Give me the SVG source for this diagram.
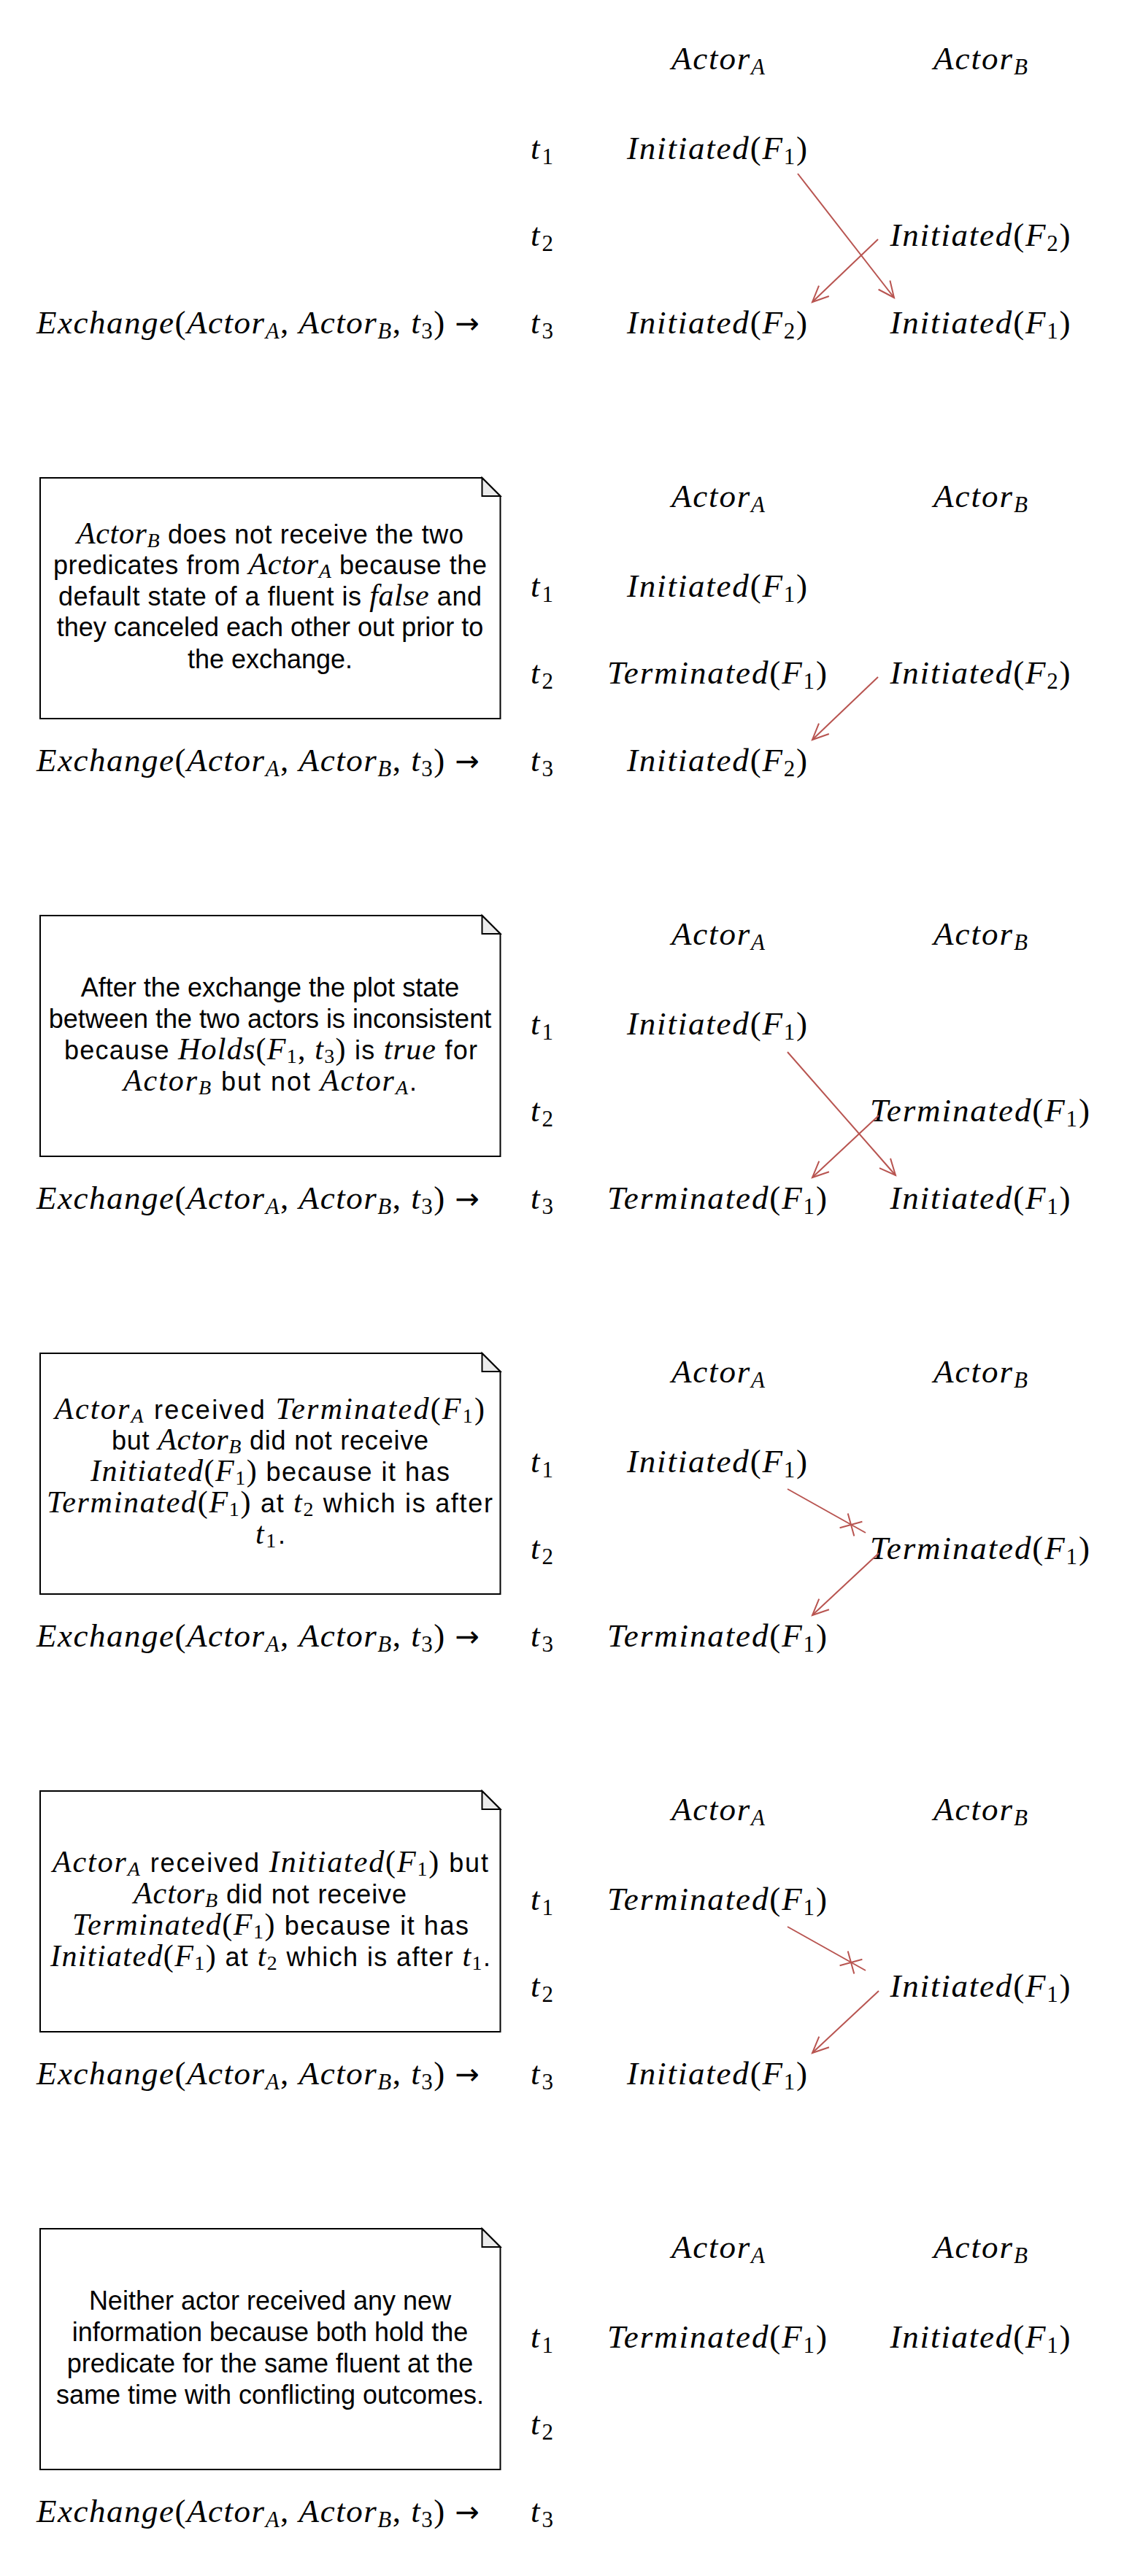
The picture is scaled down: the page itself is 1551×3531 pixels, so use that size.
<svg xmlns="http://www.w3.org/2000/svg" width="1551" height="3531" viewBox="0 0 1551 3531">
<style>
.m{font-family:"Liberation Serif","Times New Roman",serif;font-style:italic;font-size:45px;fill:#000}
.u{font-style:normal}
.ar2{font-style:normal;font-family:"DejaVu Sans",sans-serif;font-size:40px}
.s{font-size:31px;font-style:normal}
.sb{font-size:31px}
.n{font-family:"Liberation Sans",Arial,sans-serif;font-size:36px;fill:#000}
.n .m{font-size:42px}
.n .s,.n .sb{font-size:28px}
.c{text-anchor:middle}
.note{fill:#fff;stroke:#000;stroke-width:2}
.fold{fill:#ebebeb;stroke:#000;stroke-width:2}
.ln{fill:none;stroke:#b85450;stroke-width:2}
.ar{fill:none;stroke:#b85450;stroke-width:2;marker-end:url(#arr)}
</style>
<defs>
<marker id="arr" markerUnits="userSpaceOnUse" markerWidth="30" markerHeight="24" viewBox="0 0 30 24" refX="25" refY="12" orient="auto"><path d="M3,2 L25,12 L3,22" fill="none" stroke="#b85450" stroke-width="2"/></marker>
</defs>
<rect width="1551" height="3531" fill="#fff"/>

<!-- Panel 1 -->
<g id="panel1">
<g id="p1-actorA"><text class="m" x="920" y="95" textLength="128">Actor<tspan class="sb" dy="7">A</tspan></text></g>
<g id="p1-actorB"><text class="m" x="1279" y="95" textLength="129">Actor<tspan class="sb" dy="7">B</tspan></text></g>
<g id="p1-t1"><text class="m" x="727" y="218" textLength="31">t<tspan class="s" dy="7">1</tspan></text></g>
<g id="p1-t2"><text class="m" x="727" y="337" textLength="31">t<tspan class="s" dy="7">2</tspan></text></g>
<g id="p1-t3"><text class="m" x="727" y="457" textLength="31">t<tspan class="s" dy="7">3</tspan></text></g>
<g id="p1-exchange"><text class="m" x="50" y="457" textLength="607">Exchange<tspan class="u">(</tspan>Actor<tspan class="sb" dy="7">A</tspan><tspan class="u" dy="-7">, </tspan>Actor<tspan class="sb" dy="7">B</tspan><tspan class="u" dy="-7">, </tspan>t<tspan class="s" dy="7">3</tspan><tspan class="u" dy="-7">) </tspan><tspan class="ar2">→</tspan></text></g>
<g id="p1-A-t1"><text class="m" x="859" y="218" textLength="247">Initiated<tspan class="u">(</tspan>F<tspan class="s" dy="7">1</tspan><tspan class="u" dy="-7">)</tspan></text></g>
<g id="p1-B-t2"><text class="m" x="1219.5" y="337" textLength="247">Initiated<tspan class="u">(</tspan>F<tspan class="s" dy="7">2</tspan><tspan class="u" dy="-7">)</tspan></text></g>
<g id="p1-A-t3"><text class="m" x="859" y="457" textLength="247">Initiated<tspan class="u">(</tspan>F<tspan class="s" dy="7">2</tspan><tspan class="u" dy="-7">)</tspan></text></g>
<g id="p1-B-t3"><text class="m" x="1219.5" y="457" textLength="247">Initiated<tspan class="u">(</tspan>F<tspan class="s" dy="7">1</tspan><tspan class="u" dy="-7">)</tspan></text></g>
</g>

<!-- Panel 2 -->
<g id="panel2" transform="translate(0,600)">
<g id="p2-note">
<path class="note" d="M55,55 H660.5 L685.5,80 V385 H55 Z"/>
<path class="fold" d="M660.5,55 V80 H685.5 Z"/>
<text class="n" x="105" y="145" textLength="530"><tspan class="m">Actor<tspan class="sb" dy="5">B</tspan></tspan><tspan dy="-5"> does not receive the two</tspan></text>
<text class="n" x="73" y="187" textLength="594">predicates from <tspan class="m">Actor<tspan class="sb" dy="5">A</tspan></tspan><tspan dy="-5"> because the</tspan></text>
<text class="n" x="80" y="230" textLength="580">default state of a fluent is <tspan class="m">false</tspan> and</text>
<text class="n c" x="370" y="272">they canceled each other out prior to</text>
<text class="n c" x="370" y="316">the exchange.</text>
</g>
<g id="p2-actorA"><text class="m" x="920" y="95" textLength="128">Actor<tspan class="sb" dy="7">A</tspan></text></g>
<g id="p2-actorB"><text class="m" x="1279" y="95" textLength="129">Actor<tspan class="sb" dy="7">B</tspan></text></g>
<g id="p2-t1"><text class="m" x="727" y="218" textLength="31">t<tspan class="s" dy="7">1</tspan></text></g>
<g id="p2-t2"><text class="m" x="727" y="337" textLength="31">t<tspan class="s" dy="7">2</tspan></text></g>
<g id="p2-t3"><text class="m" x="727" y="457" textLength="31">t<tspan class="s" dy="7">3</tspan></text></g>
<g id="p2-exchange"><text class="m" x="50" y="457" textLength="607">Exchange<tspan class="u">(</tspan>Actor<tspan class="sb" dy="7">A</tspan><tspan class="u" dy="-7">, </tspan>Actor<tspan class="sb" dy="7">B</tspan><tspan class="u" dy="-7">, </tspan>t<tspan class="s" dy="7">3</tspan><tspan class="u" dy="-7">) </tspan><tspan class="ar2">→</tspan></text></g>
<g id="p2-A-t1"><text class="m" x="859" y="218" textLength="247">Initiated<tspan class="u">(</tspan>F<tspan class="s" dy="7">1</tspan><tspan class="u" dy="-7">)</tspan></text></g>
<g id="p2-A-t2"><text class="m" x="832" y="337" textLength="301">Terminated<tspan class="u">(</tspan>F<tspan class="s" dy="7">1</tspan><tspan class="u" dy="-7">)</tspan></text></g>
<g id="p2-B-t2"><text class="m" x="1219.5" y="337" textLength="247">Initiated<tspan class="u">(</tspan>F<tspan class="s" dy="7">2</tspan><tspan class="u" dy="-7">)</tspan></text></g>
<g id="p2-A-t3"><text class="m" x="859" y="457" textLength="247">Initiated<tspan class="u">(</tspan>F<tspan class="s" dy="7">2</tspan><tspan class="u" dy="-7">)</tspan></text></g>
</g>

<!-- Panel 3 -->
<g id="panel3" transform="translate(0,1200)">
<g id="p3-note">
<path class="note" d="M55,55 H660.5 L685.5,80 V385 H55 Z"/>
<path class="fold" d="M660.5,55 V80 H685.5 Z"/>
<text class="n c" x="370" y="166">After the exchange the plot state</text>
<text class="n c" x="370" y="209">between the two actors is inconsistent</text>
<text class="n" x="88" y="252" textLength="566">because <tspan class="m">Holds<tspan class="u">(</tspan>F<tspan class="s" dy="5">1</tspan><tspan class="u" dy="-5">, </tspan>t<tspan class="s" dy="5">3</tspan><tspan class="u" dy="-5">)</tspan></tspan> is <tspan class="m">true</tspan> for</text>
<text class="n" x="169" y="295" textLength="402"><tspan class="m">Actor<tspan class="sb" dy="5">B</tspan></tspan><tspan dy="-5"> but not </tspan><tspan class="m">Actor<tspan class="sb" dy="5">A</tspan></tspan><tspan dy="-5">.</tspan></text>
</g>
<g id="p3-actorA"><text class="m" x="920" y="95" textLength="128">Actor<tspan class="sb" dy="7">A</tspan></text></g>
<g id="p3-actorB"><text class="m" x="1279" y="95" textLength="129">Actor<tspan class="sb" dy="7">B</tspan></text></g>
<g id="p3-t1"><text class="m" x="727" y="218" textLength="31">t<tspan class="s" dy="7">1</tspan></text></g>
<g id="p3-t2"><text class="m" x="727" y="337" textLength="31">t<tspan class="s" dy="7">2</tspan></text></g>
<g id="p3-t3"><text class="m" x="727" y="457" textLength="31">t<tspan class="s" dy="7">3</tspan></text></g>
<g id="p3-exchange"><text class="m" x="50" y="457" textLength="607">Exchange<tspan class="u">(</tspan>Actor<tspan class="sb" dy="7">A</tspan><tspan class="u" dy="-7">, </tspan>Actor<tspan class="sb" dy="7">B</tspan><tspan class="u" dy="-7">, </tspan>t<tspan class="s" dy="7">3</tspan><tspan class="u" dy="-7">) </tspan><tspan class="ar2">→</tspan></text></g>
<g id="p3-A-t1"><text class="m" x="859" y="218" textLength="247">Initiated<tspan class="u">(</tspan>F<tspan class="s" dy="7">1</tspan><tspan class="u" dy="-7">)</tspan></text></g>
<g id="p3-B-t2"><text class="m" x="1192" y="337" textLength="301">Terminated<tspan class="u">(</tspan>F<tspan class="s" dy="7">1</tspan><tspan class="u" dy="-7">)</tspan></text></g>
<g id="p3-A-t3"><text class="m" x="832" y="457" textLength="301">Terminated<tspan class="u">(</tspan>F<tspan class="s" dy="7">1</tspan><tspan class="u" dy="-7">)</tspan></text></g>
<g id="p3-B-t3"><text class="m" x="1219.5" y="457" textLength="247">Initiated<tspan class="u">(</tspan>F<tspan class="s" dy="7">1</tspan><tspan class="u" dy="-7">)</tspan></text></g>
</g>

<!-- Panel 4 -->
<g id="panel4" transform="translate(0,1800)">
<g id="p4-note">
<path class="note" d="M55,55 H660.5 L685.5,80 V385 H55 Z"/>
<path class="fold" d="M660.5,55 V80 H685.5 Z"/>
<text class="n" x="75" y="145" textLength="589"><tspan class="m">Actor<tspan class="sb" dy="5">A</tspan></tspan><tspan dy="-5"> received </tspan><tspan class="m">Terminated<tspan class="u">(</tspan>F<tspan class="s" dy="5">1</tspan><tspan class="u" dy="-5">)</tspan></tspan></text>
<text class="n" x="153" y="187" textLength="434">but <tspan class="m">Actor<tspan class="sb" dy="5">B</tspan></tspan><tspan dy="-5"> did not receive</tspan></text>
<text class="n" x="124" y="230" textLength="492"><tspan class="m">Initiated<tspan class="u">(</tspan>F<tspan class="s" dy="5">1</tspan><tspan class="u" dy="-5">)</tspan></tspan> because it has</text>
<text class="n" x="64" y="273" textLength="611"><tspan class="m">Terminated<tspan class="u">(</tspan>F<tspan class="s" dy="5">1</tspan><tspan class="u" dy="-5">)</tspan></tspan> at <tspan class="m">t<tspan class="s" dy="5">2</tspan></tspan><tspan dy="-5"> which is after</tspan></text>
<text class="n" x="350" y="316" textLength="41"><tspan class="m">t<tspan class="s" dy="5">1</tspan></tspan><tspan dy="-5">.</tspan></text>
</g>
<g id="p4-actorA"><text class="m" x="920" y="95" textLength="128">Actor<tspan class="sb" dy="7">A</tspan></text></g>
<g id="p4-actorB"><text class="m" x="1279" y="95" textLength="129">Actor<tspan class="sb" dy="7">B</tspan></text></g>
<g id="p4-t1"><text class="m" x="727" y="218" textLength="31">t<tspan class="s" dy="7">1</tspan></text></g>
<g id="p4-t2"><text class="m" x="727" y="337" textLength="31">t<tspan class="s" dy="7">2</tspan></text></g>
<g id="p4-t3"><text class="m" x="727" y="457" textLength="31">t<tspan class="s" dy="7">3</tspan></text></g>
<g id="p4-exchange"><text class="m" x="50" y="457" textLength="607">Exchange<tspan class="u">(</tspan>Actor<tspan class="sb" dy="7">A</tspan><tspan class="u" dy="-7">, </tspan>Actor<tspan class="sb" dy="7">B</tspan><tspan class="u" dy="-7">, </tspan>t<tspan class="s" dy="7">3</tspan><tspan class="u" dy="-7">) </tspan><tspan class="ar2">→</tspan></text></g>
<g id="p4-A-t1"><text class="m" x="859" y="218" textLength="247">Initiated<tspan class="u">(</tspan>F<tspan class="s" dy="7">1</tspan><tspan class="u" dy="-7">)</tspan></text></g>
<g id="p4-B-t2"><text class="m" x="1192" y="337" textLength="301">Terminated<tspan class="u">(</tspan>F<tspan class="s" dy="7">1</tspan><tspan class="u" dy="-7">)</tspan></text></g>
<g id="p4-A-t3"><text class="m" x="832" y="457" textLength="301">Terminated<tspan class="u">(</tspan>F<tspan class="s" dy="7">1</tspan><tspan class="u" dy="-7">)</tspan></text></g>
</g>

<!-- Panel 5 -->
<g id="panel5" transform="translate(0,2400)">
<g id="p5-note">
<path class="note" d="M55,55 H660.5 L685.5,80 V385 H55 Z"/>
<path class="fold" d="M660.5,55 V80 H685.5 Z"/>
<text class="n" x="72" y="166" textLength="597"><tspan class="m">Actor<tspan class="sb" dy="5">A</tspan></tspan><tspan dy="-5"> received </tspan><tspan class="m">Initiated<tspan class="u">(</tspan>F<tspan class="s" dy="5">1</tspan><tspan class="u" dy="-5">)</tspan></tspan> but</text>
<text class="n" x="183" y="209" textLength="374"><tspan class="m">Actor<tspan class="sb" dy="5">B</tspan></tspan><tspan dy="-5"> did not receive</tspan></text>
<text class="n" x="99" y="252" textLength="543"><tspan class="m">Terminated<tspan class="u">(</tspan>F<tspan class="s" dy="5">1</tspan><tspan class="u" dy="-5">)</tspan></tspan> because it has</text>
<text class="n" x="69" y="295" textLength="603"><tspan class="m">Initiated<tspan class="u">(</tspan>F<tspan class="s" dy="5">1</tspan><tspan class="u" dy="-5">)</tspan></tspan> at <tspan class="m">t<tspan class="s" dy="5">2</tspan></tspan><tspan dy="-5"> which is after </tspan><tspan class="m">t<tspan class="s" dy="5">1</tspan></tspan><tspan dy="-5">.</tspan></text>
</g>
<g id="p5-actorA"><text class="m" x="920" y="95" textLength="128">Actor<tspan class="sb" dy="7">A</tspan></text></g>
<g id="p5-actorB"><text class="m" x="1279" y="95" textLength="129">Actor<tspan class="sb" dy="7">B</tspan></text></g>
<g id="p5-t1"><text class="m" x="727" y="218" textLength="31">t<tspan class="s" dy="7">1</tspan></text></g>
<g id="p5-t2"><text class="m" x="727" y="337" textLength="31">t<tspan class="s" dy="7">2</tspan></text></g>
<g id="p5-t3"><text class="m" x="727" y="457" textLength="31">t<tspan class="s" dy="7">3</tspan></text></g>
<g id="p5-exchange"><text class="m" x="50" y="457" textLength="607">Exchange<tspan class="u">(</tspan>Actor<tspan class="sb" dy="7">A</tspan><tspan class="u" dy="-7">, </tspan>Actor<tspan class="sb" dy="7">B</tspan><tspan class="u" dy="-7">, </tspan>t<tspan class="s" dy="7">3</tspan><tspan class="u" dy="-7">) </tspan><tspan class="ar2">→</tspan></text></g>
<g id="p5-A-t1"><text class="m" x="832" y="218" textLength="301">Terminated<tspan class="u">(</tspan>F<tspan class="s" dy="7">1</tspan><tspan class="u" dy="-7">)</tspan></text></g>
<g id="p5-B-t2"><text class="m" x="1219.5" y="337" textLength="247">Initiated<tspan class="u">(</tspan>F<tspan class="s" dy="7">1</tspan><tspan class="u" dy="-7">)</tspan></text></g>
<g id="p5-A-t3"><text class="m" x="859" y="457" textLength="247">Initiated<tspan class="u">(</tspan>F<tspan class="s" dy="7">1</tspan><tspan class="u" dy="-7">)</tspan></text></g>
</g>

<!-- Panel 6 -->
<g id="panel6" transform="translate(0,3000)">
<g id="p6-note">
<path class="note" d="M55,55 H660.5 L685.5,80 V385 H55 Z"/>
<path class="fold" d="M660.5,55 V80 H685.5 Z"/>
<text class="n c" x="370" y="166">Neither actor received any new</text>
<text class="n c" x="370" y="209">information because both hold the</text>
<text class="n c" x="370" y="252">predicate for the same fluent at the</text>
<text class="n c" x="370" y="295">same time with conflicting outcomes.</text>
</g>
<g id="p6-actorA"><text class="m" x="920" y="95" textLength="128">Actor<tspan class="sb" dy="7">A</tspan></text></g>
<g id="p6-actorB"><text class="m" x="1279" y="95" textLength="129">Actor<tspan class="sb" dy="7">B</tspan></text></g>
<g id="p6-t1"><text class="m" x="727" y="218" textLength="31">t<tspan class="s" dy="7">1</tspan></text></g>
<g id="p6-t2"><text class="m" x="727" y="337" textLength="31">t<tspan class="s" dy="7">2</tspan></text></g>
<g id="p6-t3"><text class="m" x="727" y="457" textLength="31">t<tspan class="s" dy="7">3</tspan></text></g>
<g id="p6-exchange"><text class="m" x="50" y="457" textLength="607">Exchange<tspan class="u">(</tspan>Actor<tspan class="sb" dy="7">A</tspan><tspan class="u" dy="-7">, </tspan>Actor<tspan class="sb" dy="7">B</tspan><tspan class="u" dy="-7">, </tspan>t<tspan class="s" dy="7">3</tspan><tspan class="u" dy="-7">) </tspan><tspan class="ar2">→</tspan></text></g>
<g id="p6-A-t1"><text class="m" x="832" y="218" textLength="301">Terminated<tspan class="u">(</tspan>F<tspan class="s" dy="7">1</tspan><tspan class="u" dy="-7">)</tspan></text></g>
<g id="p6-B-t1"><text class="m" x="1219.5" y="218" textLength="247">Initiated<tspan class="u">(</tspan>F<tspan class="s" dy="7">1</tspan><tspan class="u" dy="-7">)</tspan></text></g>
</g>

<!-- Connectors -->
<g id="connectors">
<g id="c-panel1">
<line class="ar" x1="1093" y1="238" x2="1225" y2="408"/>
<line class="ar" x1="1203" y1="328" x2="1113" y2="414"/>
</g>
<g id="c-panel2" transform="translate(0,600)">
<line class="ar" x1="1203" y1="328" x2="1113" y2="414"/>
</g>
<g id="c-panel3" transform="translate(0,1200)">
<line class="ar" x1="1079" y1="242" x2="1227" y2="411"/>
<line class="ar" x1="1204" y1="329" x2="1113" y2="414"/>
</g>
<g id="c-panel4" transform="translate(0,1800)">
<line class="ln" x1="1079" y1="241" x2="1186" y2="301"/>
<line class="ln" x1="1150.6" y1="294.3" x2="1181.4" y2="285.7"/>
<line class="ln" x1="1161.7" y1="274.6" x2="1170.3" y2="305.4"/>
<line class="ar" x1="1204" y1="329" x2="1113" y2="414"/>
</g>
<g id="c-panel5" transform="translate(0,2400)">
<line class="ln" x1="1079" y1="241" x2="1186" y2="301"/>
<line class="ln" x1="1150.6" y1="294.3" x2="1181.4" y2="285.7"/>
<line class="ln" x1="1161.7" y1="274.6" x2="1170.3" y2="305.4"/>
<line class="ar" x1="1204" y1="329" x2="1113" y2="414"/>
</g>
</g>
</svg>
